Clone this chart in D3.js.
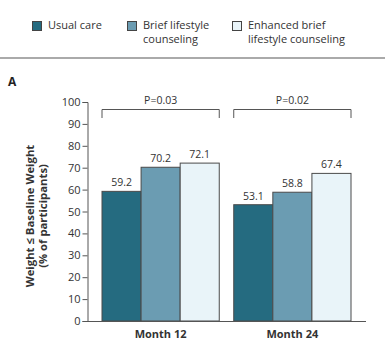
<!DOCTYPE html>
<html><head><meta charset="utf-8">
<script src="https://cdn.jsdelivr.net/npm/d3@7"></script>
<style>body{margin:0;background:#fff}svg{display:block;font-family:"Open Sans",sans-serif}</style>
</head><body><svg id="c" width="385" height="355"></svg>
<script>
const categories = ["Month 12", "Month 24"];
const series = ["Usual care", "Brief lifestyle counseling", "Enhanced brief lifestyle counseling"];
const legendLines = [["Usual care"], ["Brief lifestyle", "counseling"], ["Enhanced brief", "lifestyle counseling"]];
const usualCare = [59.2, 53.1];
const briefCounseling = [70.2, 58.8];
const enhancedCounseling = [72.1, 67.4];
const pValues = ["P=0.03", "P=0.02"];
const yTicks = [0,10,20,30,40,50,60,70,80,90,100];
const colors = ["#256b80", "#6b9cb2", "#e9f4f9"];

const svg = d3.select("#c");
const y = d3.scaleLinear().domain([0,100]).range([321,102]);
const x0 = d3.scaleBand().domain(categories).range([102,351]).paddingInner(0.11).paddingOuter(0);
const x1 = d3.scaleBand().domain(series).range([0, x0.bandwidth()]);
const values = [usualCare, briefCounseling, enhancedCounseling];

// legend
const lx = [32, 127, 232];
legendLines.forEach((lines,i)=>{
  svg.append("rect").attr("x",lx[i]+0.5).attr("y",21.5).attr("width",9).attr("height",9)
    .attr("fill",colors[i]).attr("stroke","#444").attr("stroke-width",1);
  lines.forEach((t,j)=>{
    svg.append("text").attr("x",lx[i]+16).attr("y",29+j*14).attr("font-size",11).attr("fill","#333").text(t);
  });
});
svg.append("line").attr("x1",0).attr("x2",385).attr("y1",58).attr("y2",58).attr("stroke","#aaa").attr("stroke-width",2);
svg.append("text").attr("x",8).attr("y",86).attr("font-size",12).attr("font-weight","bold").attr("fill","#222").text("A");

// bars
categories.forEach((c,ci)=>{
  series.forEach((s,si)=>{
    const v = values[si][ci];
    const bx = x0(c)+x1(s);
    svg.append("rect").attr("x",bx).attr("y",y(v)).attr("width",x1.bandwidth()).attr("height",y(0)-y(v))
      .attr("fill",colors[si]).attr("stroke","#4a4a4a").attr("stroke-width",1);
    svg.append("text").attr("x",bx+x1.bandwidth()/2).attr("y",y(v)-5).attr("text-anchor","middle")
      .attr("font-size",10.5).attr("fill","#333").text(v.toFixed(1));
  });
  // bracket
  const bl = x0(c), br = x0(c)+x0.bandwidth();
  svg.append("path").attr("d",`M${bl},118V109.5H${br}V118`).attr("fill","none").attr("stroke","#555").attr("stroke-width",1);
  svg.append("text").attr("x",(bl+br)/2).attr("y",104).attr("text-anchor","middle").attr("font-size",10.5).attr("fill","#333").text(pValues[ci]);
  svg.append("text").attr("x",(bl+br)/2).attr("y",338).attr("text-anchor","middle").attr("font-size",11).attr("font-weight","bold").attr("fill","#333").text(c);
});

// y axis
const ya = svg.append("g").attr("transform","translate(87.5,0)")
  .call(d3.axisLeft(y).tickValues(yTicks).tickSize(5).tickPadding(2).tickFormat(d3.format("d")));
ya.select(".domain").attr("stroke","#555");
ya.selectAll(".tick line").attr("stroke","#555");
ya.selectAll(".tick text").attr("font-size",11).attr("fill","#333").attr("font-family","Open Sans");
// x axis line
svg.append("line").attr("x1",87).attr("x2",366).attr("y1",321.5).attr("y2",321.5).attr("stroke","#555");

// y title
const yt = svg.append("text").attr("transform","translate(0,216) rotate(-90)").attr("text-anchor","middle")
  .attr("font-size",11.3).attr("font-weight","bold").attr("fill","#333");
yt.append("tspan").attr("x",0).attr("y",34).text("Weight ≤ Baseline Weight");
yt.append("tspan").attr("x",0).attr("y",46.5).text("(% of participants)");
</script></body></html>
